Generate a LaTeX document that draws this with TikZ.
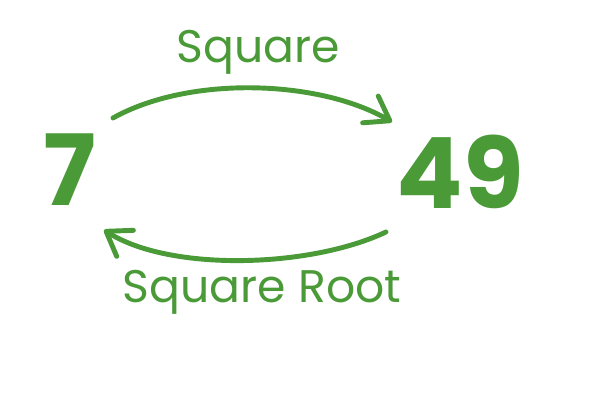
\documentclass[tikz,border=0pt]{standalone}
\usepackage{fontspec}
\setmainfont{Poppins}
\usetikzlibrary{arrows.meta}
\definecolor{leaf}{HTML}{4A9A38}
\tikzset{
  num/.style={text=leaf,inner sep=0pt,font=\fontsize{56}{60}\selectfont\bfseries},
  op/.style={text=leaf,inner sep=0pt,font=\fontsize{26}{30}\selectfont},
  swing/.style={draw=leaf,line width=2.8pt,line cap=round,
    -{Straight Barb[round,length=0.45cm,width=0.62cm]}},
}

\begin{document}
\begin{tikzpicture}
  \useasboundingbox (0,0) rectangle (12,8);
  % the two numbers
  \node[num] (seven) at (1.4,4.6) {7};
  \node[num] (nine) at (9.2,4.56) {49};
  % operation names
  \node[op] (sq) at (5.16,6.96) {Square};
  \node[op] (root) at (5.24,2.16) {Square Root};
  % arrow ends
  \coordinate (sqa) at (2.26,5.64);
  \coordinate (sqb) at (7.84,5.56);
  \coordinate (rta) at (7.72,3.36);
  \coordinate (rtb) at (2.08,3.4);
  % forward and back
  \draw[swing] (sqa) .. controls (3.8,6.5) and (6.4,6.4) .. (sqb);
  \draw[swing] (rta) .. controls (6.2,2.64) and (3.4,2.56) .. (rtb);
\end{tikzpicture}
\end{document}
